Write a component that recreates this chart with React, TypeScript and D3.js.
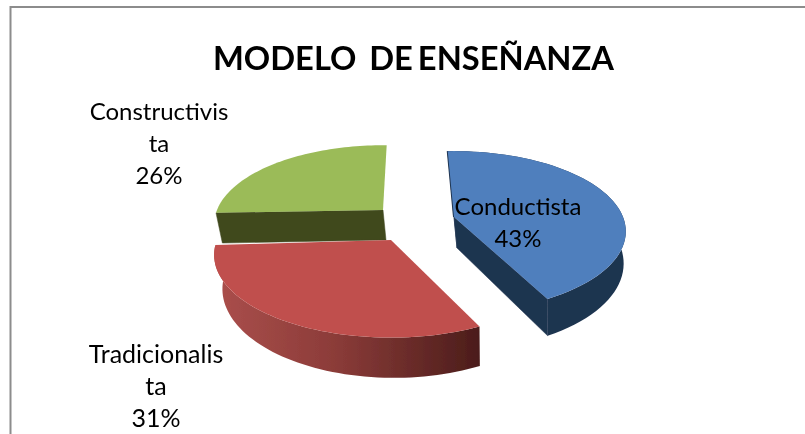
import React from "react";
import * as d3 from "d3";

const categories = ["Conductista", "Tradicionalista", "Constructivista"];
const values = [43, 31, 26];
const labelLines = [["Conductista", "43%"], ["Tradicionalis", "ta", "31%"], ["Constructivis", "ta", "26%"]];
const topColors = ["#4f7fbd", "#c0504d", "#9bbb59"];
const sideColors = ["#1f3450", "#7d3230", "#40481f"];
const titleWords = ["MODELO", "DE", "ENSEÑANZA"];

// each exploded slice has its own apex and perspective-squashed disc
const discs = [
  { cx: 454, cy: 217, r: 169, k: 0.46, depth: 31, shrink: 0.97, rot: -2.5 },
  { cx: 391, cy: 240, r: 174, k: 0.46, depth: 33, shrink: 0.97, rot: 0 },
  { cx: 383, cy: 210, r: 166, k: 0.46, depth: 30, shrink: 0.98, rot: 1.5 },
];
const labelPos = [
  { x: 518, y: 215 },
  { x: 156, y: 363 },
  { x: 159, y: 120 },
];
const labelSize = [24, 25, 24];
const P = 0.18;

type D = (typeof discs)[number];
function project(d: D, theta: number, radius: number, bottom: boolean): [number, number] {
  const t = theta + (d.rot * Math.PI) / 180;
  const X = Math.sin(t) * radius;
  const Y = Math.cos(t) * radius;
  const g = 1 / (1 + P * Y);
  const s = bottom ? d.shrink : 1;
  return [
    d.cx + (bottom ? 3 : 0) + d.r * X * g * s,
    d.cy - d.r * d.k * Y * g + (bottom ? d.depth * g : 0),
  ];
}

const pieGen = d3.pie<number>().sort(null).value((v) => v);
const arcs = pieGen(values);
const toPath = d3.line<[number, number]>();

function Slice({ i }: { i: number }) {
  const d = discs[i];
  const a = arcs[i];
  const N = 60;
  const thetas = d3.range(N + 1).map((j) => a.startAngle + ((a.endAngle - a.startAngle) * j) / N);
  const rim = thetas.map((t) => project(d, t, 1, false));
  const rimB = thetas.map((t) => project(d, t, 1, true));
  const c = project(d, 0, 0, false);
  const cB = project(d, 0, 0, true);
  const top = toPath([c, ...rim])! + "Z";
  const wall = (pts: [number, number][], fill: string, key: string) => (
    <path key={key} d={toPath(pts)! + "Z"} fill={fill} stroke={fill} strokeWidth={0.5} />
  );
  const outer = [...rim, ...[...rimB].reverse()] as [number, number][];
  const outerPath = toPath(outer)! + "Z";
  return (
    <g>
      {i === 0 && wall([c, rim[0], rimB[0], cB], sideColors[0], "r0")}
      {i === 0 && wall([c, rim[N], rimB[N], cB], sideColors[0], "r1")}
      {i === 2 && wall([c, rim[0], rimB[0], cB], sideColors[2], "r2")}
      {i !== 2 && <path d={outerPath} fill={i === 1 ? "url(#redSide)" : sideColors[0]} />}
      {i === 0 && <path d={`M${rim[0]}L${c}`} stroke={sideColors[0]} strokeWidth={2} fill="none" />}
      <path d={top} fill={topColors[i]} />
    </g>
  );
}

export default function App() {
  return (
    <svg
      width={805}
      height={434}
      style={{ position: "absolute", left: 0, top: 0, background: "#fff", fontFamily: "Lato, 'Open Sans', sans-serif" }}
    >
      <defs>
        <linearGradient id="redSide" gradientUnits="userSpaceOnUse" x1={214} x2={478} y1={0} y2={0}>
          <stop offset="0" stopColor="#ab4f4c" />
          <stop offset="0.45" stopColor="#8c3c39" />
          <stop offset="1" stopColor="#4c1d1b" />
        </linearGradient>
        <filter id="soft" x="-5%" y="-5%" width="110%" height="110%">
          <feGaussianBlur stdDeviation="0.5" />
        </filter>
      </defs>
      <g filter="url(#soft)">
        <path d="M10.5,434V7H805" fill="none" stroke="#8c8c8c" strokeWidth={2} />
        <text x={213} y={70} fontSize={33} fontWeight={700} textLength={401} lengthAdjust="spacingAndGlyphs" fill="#000">
          <tspan>{titleWords[0]}</tspan>
          <tspan dx={13}>{titleWords[1]}</tspan>
          <tspan dx={5}>{titleWords[2]}</tspan>
        </text>
        <Slice i={2} />
        <Slice i={0} />
        <Slice i={1} />
        {categories.map((name, i) => (
          <text key={name} textAnchor="middle" fontSize={labelSize[i]} fill="#000">
            {labelLines[i].map((line, j) => (
              <tspan key={j} x={labelPos[i].x} y={labelPos[i].y + j * 32}>
                {line}
              </tspan>
            ))}
          </text>
        ))}
      </g>
    </svg>
  );
}
